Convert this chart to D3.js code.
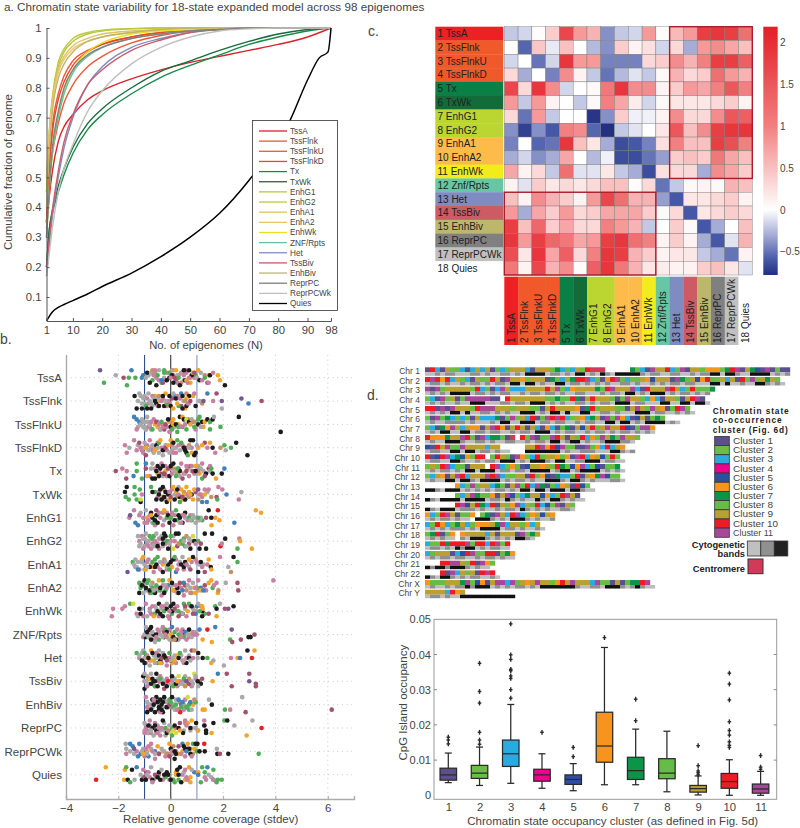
<!DOCTYPE html>
<html><head><meta charset="utf-8">
<script src="https://cdn.jsdelivr.net/npm/d3@7/dist/d3.min.js"></script>
<style>
html,body{margin:0;padding:0;background:#fff}
svg{display:block}
text{font-family:"Liberation Sans",Arial,sans-serif;fill:#444}
</style></head><body><svg id="c" width="800" height="828"></svg>
<script>
// ---------- panel a : cumulative curves ----------
const curveStates=["TssA","TssFlnk","TssFlnkU","TssFlnkD","Tx","TxWk","EnhG1","EnhG2","EnhA1","EnhA2","EnhWk","ZNF/Rpts","Het","TssBiv","EnhBiv","ReprPC","ReprPCWk","Quies"];
const curveColors=["#d8232a","#ea5a36","#ea5a36","#e8482c","#1a8a4a","#1a6a3e","#b5c83f","#bcc93f","#e4c060","#ecc56a","#ecdf20","#66c2a0","#7f8cc2","#cc5a6a","#bdb76b","#808080","#c0c0c0","#000000"];
const curveN=[1,2,3,5,7,10,15,20,30,40,50,60,70,80,90,98];
const quiesN=[1,2,3,5,7,10,15,20,30,40,50,60,70,84,90,94,97,98];
const cTssA=[.33,.44,.52,.62,.67,.71,.76,.79,.83,.86,.885,.905,.925,.945,.97,1];
const cTssFlnk=[.35,.55,.67,.78,.84,.89,.925,.945,.97,.985,.992,.997,1,1,1,1];
const cTssFlnkU=[.35,.5,.58,.68,.75,.81,.87,.905,.95,.975,.99,.997,1,1,1,1];
const cTssFlnkD=[.35,.54,.65,.76,.82,.875,.92,.945,.97,.985,.992,.997,1,1,1,1];
const cTx=[.2,.33,.38,.45,.51,.58,.66,.71,.78,.835,.875,.91,.945,.97,.99,1];
const cTxWk=[.2,.33,.39,.47,.53,.6,.68,.73,.8,.855,.89,.925,.955,.98,.995,1];
const cEnhG1=[.45,.65,.76,.87,.92,.955,.98,.99,.997,1,1,1,1,1,1,1];
const cEnhG2=[.45,.66,.77,.885,.93,.965,.985,.993,.998,1,1,1,1,1,1,1];
const cEnhA1=[.5,.66,.76,.86,.905,.94,.965,.98,.99,.995,1,1,1,1,1,1];
const cEnhA2=[.5,.65,.75,.85,.895,.93,.955,.97,.985,.993,.998,1,1,1,1,1];
const cEnhWk=[.3,.47,.58,.71,.79,.86,.92,.95,.98,.99,.995,1,1,1,1,1];
const cZnf=[.3,.47,.58,.7,.78,.85,.905,.935,.965,.98,.99,.995,1,1,1,1];
const cHet=[.17,.28,.37,.5,.6,.7,.81,.87,.935,.965,.985,.995,1,1,1,1];
const cTssBiv=[.2,.3,.39,.52,.62,.71,.81,.86,.925,.96,.985,.995,1,1,1,1];
const cEnhBiv=[.4,.6,.72,.83,.88,.92,.955,.97,.985,.995,1,1,1,1,1,1];
const cReprPC=[.3,.47,.6,.72,.8,.86,.91,.935,.965,.98,.99,.995,1,1,1,1];
const cReprPCWk=[.17,.25,.33,.45,.53,.61,.72,.79,.88,.935,.97,.99,.997,1,1,1];
const cQuies=[.02,.036,.05,.065,.075,.088,.11,.135,.18,.235,.3,.38,.49,.69,.826,.9,.92,1];
const curveValues=[cTssA,cTssFlnk,cTssFlnkU,cTssFlnkD,cTx,cTxWk,cEnhG1,cEnhG2,cEnhA1,cEnhA2,cEnhWk,cZnf,cHet,cTssBiv,cEnhBiv,cReprPC,cReprPCWk];

// ---------- panel b : jittered dots. token = value + anatomy letter + jitter lane ----------
const dotStates=["TssA","TssFlnk","TssFlnkU","TssFlnkD","Tx","TxWk","EnhG1","EnhG2","EnhA1","EnhA2","EnhWk","ZNF/Rpts","Het","TssBiv","EnhBiv","ReprPC","ReprPCWk","Quies"];
const dotPalette={k:"#1c1c1c",p:"#c97fa2",g:"#a9a9a9",n:"#4fae55",o:"#f4a428",b:"#3f80bd",v:"#74598f",r:"#a65070",e:"#ea1c26",y:"#d5dc3c",c:"#c79063"};
const dTssA="-2.7v0 -2.55n5 -2.1g2 -1.8r3 -1.67n6 -1.6n3 -1.35n3 -1.5b0 -1.1b3 -1.05b2 -0.9k1 -0.8k5 -0.75g1 -0.7c0 -0.6p0 -0.55k6 -0.5n2 -0.45p4 -0.3r5 -0.25n0 -0.25n1 -0.2p4 -0.15k4 -0.05k3 0.05k2 0p3 0.1k5 0.1g0 0.2o0 0.25g2 0.3n3 0.35k6 0.4p1 0.45g1 0.5k0 0.5p2 0.55k4 0.6o4 0.7k0 0.75o5 0.8k2 0.85o1 1g3 1.1k4 1.2p4 1.3n3 1.45o2 1.5k2 1.45p5 1.62p1 1.8o2 1.88o4 2.07k6 0.9r1 0.65p5 -0.35b4 -0.95g3 -0.65p2 0.15r3 0.7p3";
const dTssFlnk="-1.38k1 -1.3k6 -1.25g3 -1.15g1 -1.1k6 -1.05g2 -1g4 -0.95n5 -0.9k6 -0.85g0 -0.8g3 -0.75k6 -0.7p1 -0.65g2 -0.6k3 -0.55k4 -0.5p5 -0.45k5 -0.4o3 -0.3k1 -0.25k5 -0.15n4 -0.1p3 -0.05k1 0k5 0.1g0 0.1o6 0.2k2 0.3n5 0.35p2 0.4b0 0.45k1 0.5g3 0.55o6 0.6k5 0.65p4 0.7k1 0.75r3 0.6o2 0.9p0 0.95k5 0.45k6 1.1g3 1.25v3 1.4b0 1.62p3 1.75r0 1.95v3 1.95g6 2.7v2 2.97b4 3.47r3 -0.2g3 -0.35p3 0.25o4 0.55c3";
const dTssFlnkU="-1.4b0 -1.3p5 -1.3b1 -1.2b2 -1.15g3 -1.1g1 -1.05g4 -1g2 -0.95g5 -0.9g0 -0.85p4 -0.8g3 -0.7n5 -0.6o3 -0.55r2 -0.5o4 -0.45p3 -0.4g5 -0.3p4 -0.2r3 -0.1k1 -0.05p6 0k4 0.05n5 0.1o1 0.1o3 0.2k3 0.25n6 0.3n4 0.35k0 0.45o0 0.5k1 0.55p3 0.6y1 0.7k2 0.75o3 0.8g1 0.9c2 1.05k3 1.1n0 1.2k2 1.3o2 1.4k1 1.5n5 1.5n2 1.6k1 1.65g0 1.9n4 2.6k0 4.2k6 -0.35n2 -0.75p2 0.4p4 0.9n4 1.15g4";
const dTssFlnkD="-1.75p2 -1.68p5 -1.58g3 -1.4p0 -1.3p4 -1.2r1 -1.1g3 -1.05p5 -1g1 -0.95r6 -0.85g4 -0.8p0 -0.7g2 -0.65g5 -0.55k2 -0.5g3 -0.45n1 -0.4o0 -0.3k4 -0.3g6 -0.2r3 -0.1o2 0o0 0.05g4 0.1k1 0.1p5 0.2g3 0.25n0 0.3p2 0.4n1 0.5k3 0.55k4 0.6k5 0.65n6 0.75k0 0.8o5 0.85k0 0.9k6 1g2 1.2o2 1.5o1 1.6k3 1.7p5 1.9c3 2.05n2 2.1g4 2.3n3 2.5k1 2.93k6 0.95k5 1.4p3 -1.15p3 -0.6o4 0.7g3";
const dTx="-2.1r3 -1.85p2 -1.68p3 -1.7r6 -1.42b5 -1.3n0 -1.3n3 -1.1n6 -0.95b0 -0.9o5 -0.75g2 -0.6k6 -0.55k3 -0.5k1 -0.45k5 -0.4k2 -0.35p0 -0.3k1 -0.25k4 -0.2o3 -0.1r2 -0.05k5 0k1 0.1k0 0.15g3 0.2n5 0.3r2 0.35k3 0.4p0 0.45r6 0.55g4 0.6r3 0.7p5 0.85r3 0.95o1 1.1o4 1.15g2 1.2n6 1.35k4 1.5p1 1.5g3 1.55n2 1.6k4 1.73o6 1.95k4 2.05b2 -0.7k6 -0.25r4 0.05p4 0.25n2 0.8p1 1.05p3 0.95k3 1.3r5";
const dTxWk="-1.75k2 -1.68k0 -1.72n4 -1.6n5 -1.38n0 -1.38n3 -1.18n1 -1.3n5 -1.15k6 -1.15y5 -0.75n0 -0.7k2 -0.5p4 -0.45k3 -0.4k1 -0.35k5 -0.3k0 -0.25k4 -0.2k2 -0.15k6 -0.1k3 -0.05o5 0r4 0.1o0 0.15k5 0.2o2 0.3p3 0.35n6 0.4o1 0.5o3 0.55k5 0.6o0 0.7c4 0.85o5 1.05v1 1.2b6 1.2p4 1.3p1 1.38b6 1.45p1 1.75r4 1.78n5 1.82p0 1.97p1 2.13b3 2.6p5 2.7g2 -0.55k5 0.25k1 -0.05p2 0.45r4 0.75o3 1.1p3 1.3o3";
const dEnhG1="-1.58p3 -1.55v2 -1.4p0 -1.35b5 -1.25b6 -1.2p2 -1.05p3 -0.95g0 -0.85p4 -0.75k1 -0.7k3 -0.65n5 -0.6k4 -0.55k2 -0.5k5 -0.45p1 -0.3p6 -0.25o0 -0.15n3 -0.1k2 -0.05k5 0n3 0.05p1 0.1p6 0.15k4 0.2n0 0.3k2 0.35k3 0.45k5 0.55k1 0.6g3 0.7n3 0.75g4 0.85g2 0.95g5 1.1g4 1.15g3 1.45k0 1.35r3 1.8e0 1.7o3 1.86o4 1.56o6 3.25o0 3.45o1 2.43b5 -0.75o2 -0.9p5 0.4p5 0.5p2 1.55k3 -0.55r0 1.05n3";
const dEnhG2="-1.25g1 -1.2p3 -1.15g4 -1.05g2 -1g5 -0.95g0 -0.9p4 -0.85g3 -0.8n1 -0.75p6 -0.7n2 -0.65g5 -0.6p3 -0.55g0 -0.5p4 -0.45p6 -0.35g1 -0.3k2 -0.25k0 -0.2k1 -0.15n3 -0.1k6 -0.05g4 0n1 0.1y6 0.15p3 0.2k0 0.3k0 0.4n3 0.45n4 0.5g3 0.55n5 0.7g2 0.75k6 0.85y1 0.9k3 1.1k6 1.15r4 1.3k0 1.35k6 1.58k0 1.9e5 1.95p4 2.08k2 2.55n6 2.62p2 2.65o3 3.1o6 -0.5k5 -0.3k4 0.95p4 -1.05p6 0.3c4 0.6g5";
const dEnhA1="-1.65v6 -1.45n2 -1.4g3 -1.35g1 -1.3g4 -1.25b5 -1.1g2 -1.05o0 -1g3 -0.95o5 -0.85p1 -0.8k4 -0.7n2 -0.65p6 -0.55k3 -0.5n0 -0.4p5 -0.3k6 -0.25p2 -0.15g4 -0.1k3 -0.05n5 0k2 0.1k1 0.15n0 0.2b6 0.3p3 0.4k3 0.45g0 0.5k4 0.55k2 0.7o1 0.75r5 0.85k0 1p2 1.05k6 1.1g3 1.15k2 1.3r6 1.45o1 1.53k4 1.55o5 1.88p0 2.2g4 2.3c6 2.4k0 2.55n2 -0.9g4 -0.2g2 0.25p5 0.6p3 1.2p4 -0.6k4";
const dEnhA2="-1.2n1 -1.2k5 -1.15n3 -1.1k2 -1k0 -0.95k3 -0.9n1 -0.85n0 -0.8k4 -0.75g2 -0.7n3 -0.6k5 -0.55n2 -0.45o0 -0.4k3 -0.35p6 -0.3n0 -0.25k5 -0.2g2 -0.15p3 -0.05o0 0.05k1 0.1o4 0.2p2 0.25g5 0.35r1 0.45b4 0.5p6 0.55r2 0.7p0 0.75g3 0.8c5 0.95o5 1.05p0 1.15o4 1.25b4 1.45o1 1.55o0 1.6n3 1.65p2 1.75p1 1.8o5 1.82c4 2.1g1 2.55r1 2.58r4 3.92p0 0.3k5 -0.65g4 -1.05g5 0.65g2 1n3 0.95p3 1.3r2";
const dEnhWk="-2.25p5 -2.2p2 -1.85p2 -1.75p1 -1.55n0 -1.43y0 -1.3p4 -1.25g5 -1.2k2 -1.15k4 -0.95p0 -0.8g3 -0.7p1 -0.65o5 -0.55g2 -0.5k3 -0.45k0 -0.4k4 -0.35p1 -0.3k5 -0.25n3 -0.15k2 -0.05p6 0k1 0.05k3 0.1k0 0.15r2 0.3n3 0.45g4 0.5n0 0.55r1 0.7n0 0.8k1 0.9g3 0.95b4 1.05g0 1.2o1 1.22o2 1.2k5 1.45r4 1.7n1 1.75k2 1.75o5 1.88g0 2.07r2 2.2v2 2.4k1 0.85r4 0.6p5 -0.05p3 -0.75p4 0.3r5 1.1n3";
const dZnf="-1g3 -0.95g0 -0.9k2 -0.85g4 -0.8k1 -0.75k5 -0.7g2 -0.6g6 -0.55k3 -0.5p1 -0.45n5 -0.4g3 -0.3g4 -0.25r2 -0.2n1 -0.15k2 -0.05g5 0o3 0.05b0 0.1k4 0.2k5 0.3n3 0.4p4 0.45p1 0.5k2 0.55b2 0.6p5 0.7k1 0.75c3 0.8g4 0.95g2 1.1b1 1.22o5 1.4e1 1.7b0 1.57o6 2.33v1 2.27n5 2.35r6 2.68r5 2.97k4 3.05k4 3.2r3 -0.75k0 -0.2p3 0.4p2 0.15c5 0.65g3 1p3 -0.55p4 0.9p3";
const dHet="-1.3n1 -1.2g2 -1.1k4 -1.05g0 -1n1 -0.95p5 -0.85k3 -0.8g6 -0.75o0 -0.7k1 -0.65o4 -0.55g3 -0.5n5 -0.45k2 -0.35r3 -0.3g1 -0.25k2 -0.2k3 -0.15p6 -0.05n1 0g4 0.1g3 0.2p5 0.3k3 0.35n1 0.45p4 0.55g0 0.6k5 0.7k3 0.8r0 0.9c0 1.05k1 1.03g3 1.22k3 1.4n3 1.55o5 1.63g4 2.03g6 2.3p3 2.55o3 2.65b3 2.93k0 3.1e3 3.2o0 -0.6g5 -0.4o5 0.15o4 0.5g4 -1k5 0.75g4 -0.15r4";
const dTssBiv="-1.05k1 -1g0 -1k6 -0.95g3 -0.85g4 -0.8o2 -0.75k4 -0.7k2 -0.65k3 -0.6n5 -0.55k0 -0.5k5 -0.45p3 -0.35g2 -0.3k4 -0.25r6 -0.15p2 -0.1e3 0g4 0.05k1 0.1n5 0.2k4 0.3y1 0.35p3 0.45g4 0.5n2 0.6v3 0.7r4 0.9y0 0.95g1 1.03k3 1.15k4 1.2r2 1.6o3 1.8b0 2.14r0 2.33r5 3r0 3v3 3.25r4 3.25r5 -0.6k3 -0.9p5 0.25o3 0.8g3 -0.4n2 0.55c5 1.05g5 -0.15k5";
const dEnhBiv="-0.95p0 -0.9k6 -0.85g3 -0.75k5 -0.7k1 -0.65k3 -0.6k6 -0.55k0 -0.5k2 -0.45k4 -0.45k5 -0.4k1 -0.35k3 -0.3k6 -0.3k2 -0.25k0 -0.2g4 -0.15k4 -0.05r3 0n2 0.05k0 0.1n4 0.15g5 0.2n3 0.3b1 0.45b2 0.5p5 0.55g4 0.65y0 0.7n3 0.75b2 0.8g5 0.9c1 1.22o5 1.3o5 1.46g1 1.57k3 2.07n5 2.27p5 2.73g0 2.86r6 6.15r5 0.36e6 -0.9p4 -0.4p6 0.25p5 0.6n4 -0.65p1 -0.35k5 0.4n4";
const dReprPC="-1g1 -0.95p3 -0.9g5 -0.85k2 -0.8p0 -0.75p5 -0.7k3 -0.65g6 -0.6k2 -0.55k4 -0.45p3 -0.4p6 -0.3k0 -0.25g4 -0.2n3 -0.15k5 -0.05g2 0y5 0.05n6 0.15k2 0.2y5 0.3k3 0.47k5 0.6p2 0.8o0 0.75g4 0.75k3 0.97k1 1.03o4 1.28k2 1.28p0 1.35k4 1.35k5 1.56o5 1.63k1 2.05n0 2.16k0 2.43g2 2.9o6 3.12g0 3.47e3 -1p5 -0.5p5 -0.1p4 0.35o4 0.55p0 -0.75g4 0.95g3";
const dReprPCWk="-1.72g0 -1.7g2 -1.7p4 -1.55b0 -1.45b1 -1.4v2 -1.25b5 -1.2b0 -1.1g3 -1.05o4 -0.95p2 -0.85b5 -0.75p0 -0.7p3 -0.6p6 -0.5o1 -0.45r4 -0.35g2 -0.2p5 -0.15c4 -0.05o0 0k2 0.05p3 0.15k3 0.2k4 0.3r1 0.15k6 0.45b0 0.5k1 0.55k2 0.65o0 0.7k2 0.75k4 0.8p5 0.85n0 0.95k0 1.02k0 1.1k3 1.28e0 1.3k3 1.76g2 1.78k4 1.88r4 2.2k4 3.36n4 -0.9g4 -0.6g4 -0.05r5 0.4p4 0.6b3";
const dQuies="-2.85e5 -2.48o0 -1.78o5 -1.75o1 -1.7n0 -1.64k5 -1.55n6 -1.48k1 -1.38g5 -1.3b0 -1.1k5 -1.05p1 -1r4 -0.95k5 -0.85p2 -0.75g0 -0.7p6 -0.6r3 -0.5k4 -0.45k2 -0.4k5 -0.35g1 -0.25k3 -0.15k2 -0.05p5 0k5 0.15n6 0.2o2 0.25k1 0.3k3 0.35k0 0.4k6 0.5g2 0.6p4 0.7o0 0.75o6 0.8g1 1.05b3 1.15n6 1.2n0 1.4b0 1.45g3 1.63b5 1.63n1 1.63p5 1.75n6 1.8n5 1.95n5 -0.9g3 -0.1k3 0.55p1 1.3p4";
const dotRows=[dTssA,dTssFlnk,dTssFlnkU,dTssFlnkD,dTx,dTxWk,dEnhG1,dEnhG2,dEnhA1,dEnhA2,dEnhWk,dZnf,dHet,dTssBiv,dEnhBiv,dReprPC,dReprPCWk,dQuies];
// remaining epigenomes of each row, mostly in the crowded middle
const eTssA="-0.85g2 -0.7n4 -0.6c1 -0.45g0 -0.35n5 -0.15p1 -0.05n1 0.1p2 0.2r4 0.3c2 0.4c5 0.5g4 0.6p1 0.75g3 0.9p3 1.05o0 1.15g1 1.3p2 1.4r5 -0.55p3 -0.25g3 0.05c0 0.25p5 0.55r0 0.95n2";
const eTssFlnk="-1.2g0 -1.1g4 -1g1 -0.95g5 -0.9p2 -0.85p4 -0.7g5 -0.6o1 -0.5g2 -0.45c1 -0.3p2 -0.2o0 -0.15c5 -0.05p4 0.05r2 0.15b1 0.25p1 0.4r5 0.5p3 0.6c0 0.7g4 0.85o1 1.1p3 1.2c4 -0.75g4";
const eTssFlnkU="-1.25g4 -1.15p3 -1.05p2 -1g4 -0.95p5 -0.9g2 -0.8p4 -0.75g5 -0.65p1 -0.5g2 -0.4p5 -0.3o3 -0.25r5 -0.15p4 -0.05o2 0.05p2 0.15g4 0.3o3 0.45n4 0.6n5 0.65r1 0.8n2 0.95p5 1.05n1 1.25o4";
const eTssFlnkD="-1.25g2 -1.1p4 -1g3 -0.9p2 -0.75g3 -0.7p4 -0.6g3 -0.5p1 -0.45g5 -0.35p3 -0.25g4 -0.15p4 -0.05g5 0.05p2 0.15o3 0.2p5 0.35g4 0.45p2 0.55r3 0.7c2 0.8p3 1.05o3 1.3r1 -0.95o3 -0.2g2";
const eTx="-0.95r2 -0.8p5 -0.7g0 -0.6p2 -0.4r4 -0.3g5 -0.15p5 0g2 0.1c2 0.25c4 0.35g5 0.5p4 0.65c2 0.75r1 0.8g3 0.9p4 1g4 1.05g1 1.1c2 1.2p0 1.25g3 1.45r2 -0.5o4 -0.2p1 0.6p1";
const eTxWk="-1.1p3 -0.6n2 -0.45p2 -0.3o4 -0.2p5 -0.05k2 0.05p1 0.15g3 0.25c4 0.35k4 0.45o5 0.5c2 0.6p3 0.7o2 0.8k3 0.95r2 1.05c5 1.15p3 1.4g2 1.55c4 -0.25p1 0.3g0 0.55p5 0.9o1 -0.35n5";
const eEnhG1="-1.15g1 -1p5 -0.9o3 -0.8p2 -0.7g5 -0.6p6 -0.5g2 -0.4p3 -0.25g4 -0.15p1 -0.05g3 0.05g2 0.15p2 0.25n4 0.35g5 0.45c2 0.55g3 0.65p4 0.8n4 0.9g3 1g3 1.05g4 1.2n4 -0.3c1 0.75p2";
const eEnhG2="-1.2g5 -1.1p1 -1p2 -0.9g3 -0.85p5 -0.75g2 -0.7p4 -0.6g4 -0.55p5 -0.45g2 -0.4p2 -0.3g5 -0.2p4 -0.1g3 0p3 0.1g1 0.25r5 0.35g4 0.5n2 0.6c1 0.7r4 0.8g3 1.05n3 -0.65n1 -0.25g1";
const eEnhA1="-1.35p4 -1.25g2 -1.2p5 -1.1o1 -1g5 -0.9p2 -0.75g3 -0.6n1 -0.5p4 -0.4g2 -0.25c1 -0.15p5 -0.05g3 0.05o4 0.2p1 0.35g2 0.5p5 0.6c3 0.7g4 0.8p2 0.95c1 1.25g3 1.4p3 -0.7o4 -0.3o3";
const eEnhA2="-1.15g2 -1.05p1 -0.9g4 -0.8p5 -0.7c1 -0.55p3 -0.5g4 -0.3p2 -0.2n4 -0.1b2 0.05g2 0.15r4 0.3o2 0.4p3 0.5b1 0.6c4 0.75p5 0.85g1 0.9o3 1.05g4 1.15b3 1.35p4 -0.4n4 0.25k3 -0.75n5";
const eEnhWk="-1.1g2 -1.05p5 -0.9g5 -0.8p2 -0.6n4 -0.45p5 -0.35g2 -0.25p1 -0.1p5 0.05n4 0.2g3 0.25p1 0.4p4 0.55g2 0.65o3 0.75p1 0.85g2 1b1 1.15p1 1.3n4 0.95c3 -0.6g1 -0.15g0 0.45k4 1.2k3";
const eZnf="-1.05p4 -0.95k4 -0.85p1 -0.75g3 -0.65p5 -0.55g5 -0.45p2 -0.35g1 -0.25k4 -0.15c4 -0.05p1 0.05g3 0.15n2 0.25p1 0.3g5 0.5c3 0.6g2 0.7p4 0.85p2 -0.65k3 -0.3p0 0.35c4 0.5n4 -0.9p3 0.05c5";
const eHet="-1.2p3 -1.1g1 -1g3 -0.9o3 -0.8p4 -0.65g2 -0.55p1 -0.45g0 -0.35p5 -0.25g2 -0.15g3 -0.05p3 0.05o5 0.15g2 0.3p3 0.4g2 0.5p5 0.6p3 0.7g2 -0.9p2 -0.75o4 -0.4k4 0k4 0.25o2 0.85p3";
const eTssBiv="-1p3 -0.9g1 -0.85p2 -0.7g4 -0.6p5 -0.5g2 -0.4p1 -0.25g3 -0.2p4 -0.05g3 0.05p3 0.15g2 0.25p5 0.35g4 0.5p3 0.55g1 0.7c2 0.8p5 0.85g4 0.95p2 -0.75g0 -0.45k3 0.1c4 0.65o4 1.1c3";
const eEnhBiv="-0.9g2 -0.85p5 -0.75p3 -0.7g4 -0.6g2 -0.55p2 -0.5g1 -0.4g5 -0.25p1 -0.15g2 -0.1n4 0p4 0.1g3 0.2g1 0.3n5 0.35p2 0.4b3 0.5g3 0.6b4 0.7n5 0.85o3 0.95n2 0.55p1 0.2o5 -0.05n1";
const eReprPC="-1g4 -0.95g2 -0.9p4 -0.85g5 -0.8p2 -0.75g3 -0.65p3 -0.6p1 -0.5g2 -0.4g4 -0.35p3 -0.25g1 -0.2g6 -0.1o4 0.05n3 0.1y4 0.2p3 0.35r1 0.5g4 0.55c1 0.65o1 0.8g3 1.05g4 1.3p2 -0.55g5";
const eReprPCWk="-1.55g3 -1.4g4 -1.3p3 -1.15b4 -1.05g2 -0.9o3 -0.75g2 -0.6b3 -0.45p4 -0.3o3 -0.1p4 0.05g4 0.2p3 0.3o4 0.45o3 0.55p5 0.65r2 0.75p2 0.9o2 1n3 -1p5 -0.85p1 -0.25g3 0.1c1 0.85c4";
const eQuies="-1.15g3 -1.05g4 -0.95p3 -0.9r2 -0.8p4 -0.65g5 -0.55p4 -0.45p3 -0.3p5 -0.2n4 -0.05g3 0.05p5 0.1n5 0.2o3 0.3n5 0.45p3 0.55o5 0.65p5 0.75o4 0.9b2 1.05o2 1.3n2 1.35p5 1.55g4 -0.7k5";
const extraRows=[eTssA,eTssFlnk,eTssFlnkU,eTssFlnkD,eTx,eTxWk,eEnhG1,eEnhG2,eEnhA1,eEnhA2,eEnhWk,eZnf,eHet,eTssBiv,eEnhBiv,eReprPC,eReprPCWk,eQuies];

// ---------- panel c : state correlation heat map ----------
const heatLabels=["1 TssA","2 TssFlnk","3 TssFlnkU","4 TssFlnkD","5 Tx","6 TxWk","7 EnhG1","8 EnhG2","9 EnhA1","10 EnhA2","11 EnhWk","12 Znf/Rpts","13 Het","14 TssBiv","15 EnhBiv","16 ReprPC","17 ReprPCWk","18 Quies"];
const heatLabelColors=["#ed2024","#f1592a","#f1592a","#f1592a","#0a8046","#136b3a","#bcd631","#bcd631","#fdbb4a","#fdbb4a","#f2ec1c","#67c7a5","#7f8cc2","#cd5b64","#bdb76b","#808080","#c0c0c0","#ffffff"];
const heatRows=[
[-.2,-.15,.02,.4,1.7,.8,.6,-.4,-.2,-.15,.8,.03,.55,.8,1.8,1.9,1.8,1.2],
[.02,-.55,.45,-.08,.5,0,-.25,-.4,.4,.1,.25,-.15,.3,-.3,.8,.9,.7,.5],
[-.15,0,-.5,-.15,1.9,.8,.8,-.45,-.45,-.45,.3,.4,.9,.6,1,1.8,1.8,1.4],
[.3,-.3,0,-.45,.9,.1,-.2,-.5,-.25,-.1,-.2,.05,.6,.3,.4,1.2,.8,.6],
[1.7,.3,1.9,.9,-.15,0,.05,1.1,1.9,.9,.9,.1,.4,.8,.7,1,1.5,1],
[.8,-.2,.8,.1,0,-.2,.05,1,.7,.15,-.15,.05,.2,.2,.2,.3,.4,.1],
[.3,-.5,.8,-.2,0,0,-.75,-.4,.4,-.05,-.05,.1,.9,.3,.3,.9,1.5,1.4],
[-.4,-.7,-.4,-.6,1,.9,-.55,-.78,-.2,-.1,0,.2,1.5,.5,.9,1.8,1.9,1.9],
[-.45,0,-.55,-.5,1.9,.5,.2,-.3,-.65,-.6,-.45,.25,1,.5,.5,1.8,1.6,1],
[-.3,-.15,-.4,-.3,.7,0,-.25,-.05,-.65,-.65,-.5,-.35,.4,.5,.4,1.1,.7,.5],
[.7,.1,.3,-.2,1.2,-.1,-.1,.2,-.2,-.3,-.65,.25,.3,.3,-.3,.9,.7,.4],
[.1,-.1,.4,.2,.3,.2,.3,.5,.5,.02,.3,-.5,-.2,.05,.1,.05,.6,.5],
[.5,.1,.9,.6,.4,.1,.8,1.7,1.2,.6,.6,-.35,-.6,.2,.2,.3,.4,.1],
[.8,-.3,.7,.4,.8,.3,.4,.7,.7,.7,.4,.05,.3,-.6,.2,.3,.4,.3],
[1.8,.5,1.3,.4,.7,.3,.3,1,.8,.6,-.2,0,.4,.05,-.6,-.3,0,.5],
[1.9,.8,1.8,1.3,1.1,.7,.8,1.8,1.9,1.2,1,.1,.4,.1,-.3,-.6,-.1,.6],
[1.6,.2,1.9,.7,1.4,.3,1,1.9,1.8,.6,.4,.1,.2,.2,-.2,-.3,-.5,.1],
[1.1,.1,1.7,.6,.9,.02,1.4,1.9,1.1,.6,.2,.15,.1,.1,.4,.5,.2,-.1]];
const heatTicks=[2,1.5,1,.5,0,-.5];
const heatTickLabels=["2","1.5","1","0.5","0","\u22120.5"];
const heatDomain=[-.78,-.6,-.3,0,1,2.19];
const heatColors=["#232f80","#4558a8","#a5acd6","#ffffff","#f28080","#e31f26"];

// ---------- panel d : chromosome tracks (one letter per bin) ----------
const chrNames=["Chr 1","Chr 2","Chr 3","Chr 4","Chr 5","Chr 6","Chr 7","Chr 8","Chr 9","Chr 10","Chr 11","Chr 12","Chr 13","Chr 14","Chr 15","Chr 16","Chr 17","Chr 18","Chr 19","Chr 20","Chr 21","Chr 22","Chr X","Chr Y"];
const clusterTrack=[
"ajcaibhcaciciahcbiiicaiiihgchcibjzzz.....ghcakiijchkaiihfffbgjkaigeakabaa",
"jkjfjcibcaihbjiakiifbiiiaghcigjjkcbafjkhcbhifeiiiakghiefjhbiciajhkbigib",
"kakhiiiiibjchackiccciiiijikbcfiiiighjkiiikcajiiikjichjbhhg",
"hcakbiahkkkkkaa.jiiiiiiihhghhjgaijiiihahkiibcfcaiihaijka",
"jjakakiiihjkkkiiibiiihhaijiiiifagjhiiihhaikihkifahjkb",
"bakhgcbcbaicccgahkbicjahkjkjcbifcgiakhkfcaeiahgh",
"hcagfkiciffaikjfaijiaicafcahgaieijhikiijeahkkf",
"jfffgiikjhakcgghaz.jhkahbkjiaihjcfbkighkiib",
"eajikbhkiiiicii.....iijkfjekbhaakhfcjcif",
"jaejkcgefbjj.bjihakfbcjhiifbfakjcfiehjb",
"hibjkcbhaiii.jkcbfhaeiifibjghefkcbeahhg",
"bcifaikjciiikjkcbhiiajhfeagccbjaifgkehh",
"......fcbkhiicgbaikhjckgahcfiajeh",
"......bcikgbhfaikebcgiiefcbjkia",
"......jkeijgcjaibfkcihjcebkaib",
"fcbjkiahhf.bgakicjkcbfieif",
"cbjfcbgicbfffigkciibfci",
"hgjahf.fiiiiciaiiiakbgi",
"cbbjgjjjkhjjcjkbj",
"chiiiacejkhbjjahgf",
"...jjkkibjakfb",
"...jakcibiajkj",
"fhhhiiigkbefaikkckhifikiibfjikiiickbhaiahggjk",
"iiiicjfi"];
const bandTrack=[
"llmlmmlllmmlmllmmlmlkkkklmmlmlkklmlkmlkkkkkmlmmllmmllmlmmkklkkmllkkkklmlm",
"lmmlmllmlmmlmlmmlkklkklmllkklmmlmlmlmllmmlmllmlmlmmlmmlllkklkllmllkkmlml",
"lmlmlkkkklmmlmlmmllmlmmlmmlmllmmlllmlmmlkklmlkkklmlmmlmlm",
"lmlmllmllkkklllmmlmmlkkklmlmllmmlmlmmlkkklmmlllkkllkklkkl",
"lmlmlkklkllmmlmlmllkkklmlkklkllkkllmmlmlllkkklmmllmlml",
"lmllmmmmlmlllmlkkllkkklmmlmmllmlmmllkklkklmlkkkklml",
"lmlkkllkklmmlmmllmlmmlkkklmlmmllmlmmlmlmmlmlml",
"lmllkkkmllmmlmllmmllmlmmlkklmkklmllmkkkmml",
"lmmllkklkklmmlmll...kkkkkkklmllmmmlllkkmlm",
"lmmllkkmllmlmmlkkklmlkkkmlkkllmmkkklmmll",
"lmlmmlmlkklkkklmmlmmlkkkklmkklmkkkklmlml",
"lmllkklkkmlkkkklmlmmlmllkkkmlkkmlmlllmml",
"kkmlkkklmlmlmlmmlmlkklkklkkklkkmll",
"kmlkkkklkkkklmmlkmlmllkmlkkmlmll",
"kmlkkklmmmlmllmlmmlkmlmlmllmml",
"lmlmmlmll.kkkmlmlkkkmlmllm",
"lmlmlmmmlmlkkkklmmlmllml",
"lmlmll.mlkkkmlmlmlkkml",
"lmmlmlkmkklmlmmll",
"lmlmmlmmllmlmmlmll",
"kmkkmkkkmlmll",
"kmlkkmlmlmmllml",
"lmllmlmmkmkkklmlmlmmlmlkkkkkkkmllmmlkkkmlmkmll",
"lmmlmllkkkkkkkkkkk"];
const clusterNames=["Cluster 1","Cluster 2","Cluster 3","Cluster 4","Cluster 5","Cluster 6","Cluster 7","Cluster 8","Cluster 9","Cluster 10","Cluster 11"];
const clusterColors=["#5b4f8e","#6bbd45","#29abe2","#ec008c","#2e4f9e","#f7941e","#0a9548","#65bc46","#b9a032","#ed1c24","#a8479a"];
const bandColors={l:"#bdbdbd",m:"#8f8f8f",k:"#111111"};
const centromereColor="#d23a5a";

// ---------- panel d lower : box plot ----------
const boxIds=[1,2,3,4,5,6,7,8,9,10,11];
const boxLow=[.0036,.0028,.0034,.002,.0013,.003,.003,.001,.0001,0,0];
const boxQ1=[.0043,.0048,.0082,.004,.0031,.0094,.0045,.0047,.0009,.002,.0006];
const boxMed=[.0058,.0063,.0118,.0058,.0045,.014,.007,.0063,.0019,.0039,.0018];
const boxQ3=[.0077,.0085,.0157,.0074,.0058,.0236,.0108,.0104,.0028,.0062,.0032];
const boxHigh=[.012,.0137,.0258,.0118,.009,.042,.0188,.0182,.0055,.0101,.0068];
const boxOutliers=[
[.0146,.0157,.0165],
[.0145,.0157,.0179,.0262,.0295,.0375],
[.0276,.03,.0332,.0339,.0354,.0358,.0386,.0399,.0487],
[.0179],
[.011,.0136],
[.0448],
[.0212,.0273],
[],
[.0058,.0064,.0069,.0084,.0141],
[.0136,.0142,.0152,.0171,.0184,.0209,.0271,.0316,.0347],
[.0074,.008,.0113]];

// =====================================================================
const svg=d3.select("#c");
const T=(x,y,s,size,opt={})=>{const t=svg.append("text").attr("x",x).attr("y",y).text(s).attr("font-size",size);
  if(opt.anchor)t.attr("text-anchor",opt.anchor); if(opt.weight)t.attr("font-weight",opt.weight);
  if(opt.fill)t.style("fill",opt.fill); if(opt.rot)t.attr("transform",`rotate(${opt.rot} ${x} ${y})`); return t;};
const styleAxis=(g,color,size)=>{g.selectAll("path,line").attr("stroke",color);g.selectAll("text").attr("font-size",size).style("fill","#444");};

T(4,11,"a. Chromatin state variability for 18-state expanded model across 98 epigenomes",11.7);
T(368,36,"c.",14); T(0,344,"b.",14); T(367,400,"d.",14);

// panel a
{
 const x=d3.scaleLinear([1,98],[46.5,331]), y=d3.scaleLinear([.1,1],[297,28]);
 const line=d3.line().curve(d3.curveMonotoneX);
 const g=svg.append("g");
 curveValues.forEach((v,i)=>g.append("path").attr("fill","none").attr("stroke",curveColors[i]).attr("stroke-width",1.4)
   .attr("d",line(v.map((d,j)=>[x(curveN[j]),y(d)]))));
 g.append("path").attr("fill","none").attr("stroke","#000").attr("stroke-width",1.5)
   .attr("d",d3.line().curve(d3.curveMonotoneX)(cQuies.map((d,j)=>[x(quiesN[j]),y(d)])));
 const ax=svg.append("g").attr("transform","translate(0,321)").call(d3.axisBottom(x).tickValues([1,10,20,30,40,50,60,70,80,90,98]).tickFormat(d3.format("d")).tickSize(-3).tickPadding(5));
 styleAxis(ax,"#555",11.3);
 const ay=svg.append("g").attr("transform","translate(46.5,0)").call(d3.axisLeft(y).tickValues(d3.range(1,11).map(d=>d/10)).tickFormat(d=>d===1?"1":d3.format(".1f")(d)).tickSize(-3).tickPadding(5));
 styleAxis(ay,"#555",11.3);
 ay.select(".domain").attr("d","M0.5,28V321");
 T(8,172,"Cumulative fraction of genome",11.5,{anchor:"middle",rot:-90}).attr("dy",".35em");
 T(206,349,"No. of epigenomes (N)",11.3,{anchor:"middle"});
 // legend
 svg.append("rect").attr("x",252.5).attr("y",120.5).attr("width",85).attr("height",190).attr("fill","#fff").attr("stroke","#333").attr("stroke-width",.8);
 const ly=d3.scaleLinear([0,17],[131,303.5]);
 curveStates.forEach((s,i)=>{
  svg.append("line").attr("x1",259).attr("x2",287).attr("y1",ly(i)).attr("y2",ly(i)).attr("stroke",curveColors[i]).attr("stroke-width",1.3);
  T(290,ly(i)+2.9,s,8.2);
 });
}

// panel b
{
 const x=d3.scaleLinear([-4,7],[66,354]);
 const y=d3.scalePoint(dotStates,[377.7,774.7]);
 const lane=d3.scaleLinear([0,6],[-7.5,7.5]);
 const grid=svg.append("g").attr("stroke","#bbb").attr("stroke-width",.8).attr("stroke-dasharray","1 3.6");
 dotStates.forEach(s=>grid.append("line").attr("x1",66).attr("x2",352).attr("y1",y(s)).attr("y2",y(s)));
 [-2,2,4,6].forEach(v=>grid.append("line").attr("x1",x(v)).attr("x2",x(v)).attr("y1",355).attr("y2",799));
 [[-1,"#2f4f8f"],[0,"#333333"],[1,"#7f95cc"]].forEach(([v,c])=>svg.append("line").attr("x1",x(v)).attr("x2",x(v)).attr("y1",355).attr("y2",799).attr("stroke",c).attr("stroke-width",1.1));
 const parsed=[];
 const read=(row,r)=>row.split(" ").forEach(tok=>{
   const m=tok.match(/^(-?[\d.]+)([a-z])(\d)$/); parsed.push({s:dotStates[r],v:+m[1],c:m[2],l:+m[3]});
 });
 extraRows.forEach(read); dotRows.forEach(read);
 svg.append("g").selectAll("circle").data(parsed).join("circle")
   .attr("cx",d=>x(d.v)).attr("cy",d=>y(d.s)+lane(d.l)).attr("r",2.3).attr("fill",d=>dotPalette[d.c]);
 const ax=svg.append("g").attr("transform","translate(0,799)").call(d3.axisBottom(x).tickValues([-4,-2,0,2,4,6]).tickSize(-3).tickPadding(5));
 styleAxis(ax,"#aaa",11.5); ax.select(".domain").attr("stroke-width",1.4);
 const ay=svg.append("g").attr("transform","translate(66,0)").call(d3.axisLeft(y).tickSize(0).tickPadding(4));
 styleAxis(ay,"#aaa",11.5); ay.select(".domain").attr("d","M0.5,355V799").attr("stroke-width",1.4);
 T(210.7,823,"Relative genome coverage (stdev)",11.5,{anchor:"middle"});
}

// panel c
{
 const x=d3.scaleBand(d3.range(18),[504.3,752.3]), y=d3.scaleBand(d3.range(18),[26.7,275]);
 const color=d3.scaleLinear(heatDomain,heatColors);
 const cells=heatRows.flatMap((r,i)=>r.map((v,j)=>({i,j,v})));
 svg.append("g").selectAll("rect").data(cells).join("rect").attr("x",d=>x(d.j)).attr("y",d=>y(d.i))
  .attr("width",x.bandwidth()).attr("height",y.bandwidth()).attr("fill",d=>color(d.v)).attr("stroke","#777").attr("stroke-width",.4);
 heatLabels.forEach((s,i)=>{
  svg.append("rect").attr("x",435.3).attr("y",y(i)).attr("width",68).attr("height",y.bandwidth()+.3).attr("fill",heatLabelColors[i]);
  T(437.5,y(i)+y.bandwidth()/2+3.5,s,10,{fill:"#222"});
  svg.append("rect").attr("x",x(i)).attr("y",276.7).attr("width",x.bandwidth()+.3).attr("height",68.3).attr("fill",heatLabelColors[i]);
  T(x(i)+x.bandwidth()/2+3.5,343,s,10,{fill:"#222",rot:-90});
 });
 svg.append("rect").attr("x",x(12)).attr("y",y(0)).attr("width",x(17)+x.bandwidth()-x(12)).attr("height",y(11)-y(0)).attr("fill","none").attr("stroke","#a81e2a").attr("stroke-width",1.4);
 svg.append("rect").attr("x",x(0)).attr("y",y(12)).attr("width",x(11)-x(0)).attr("height",y(17)+y.bandwidth()-y(12)).attr("fill","none").attr("stroke","#a81e2a").attr("stroke-width",1.4);
 const cb=d3.scaleLinear([2,-.5],[42.7,251.7]);
 const grad=svg.append("defs").append("linearGradient").attr("id","cbg").attr("x1",0).attr("x2",0).attr("y1",1).attr("y2",0);
 heatDomain.forEach((v,i)=>grad.append("stop").attr("offset",(v-heatDomain[0])/(heatDomain[5]-heatDomain[0])).attr("stop-color",heatColors[i]));
 svg.append("rect").attr("x",763.3).attr("y",26.7).attr("width",14.4).attr("height",248.3).attr("fill","url(#cbg)");
 heatTicks.forEach((t,i)=>T(780,cb(t)+3.6,heatTickLabels[i],10));
}

// panel d tracks
{
 const bin=d3.scaleLinear([0,1],[0,5]);
 const x0=425, y0=367.3, y=d3.scaleLinear([0,23],[y0,y0+23*9.67]);
 chrNames.forEach((n,i)=>{
  T(420,y(i)+6.7,n,8.5,{anchor:"end"});
  const top=svg.append("g"),bot=svg.append("g");
  [...bandTrack[i]].forEach((c,j)=>{ if(!bandColors[c])return;
    bot.append("rect").attr("x",x0+bin(j)).attr("y",y(i)+5).attr("width",bin(1)+.2).attr("height",3.5).attr("fill",bandColors[c]);});
  [...clusterTrack[i]].forEach((c,j)=>{
    const col=c==="z"?centromereColor:clusterColors["abcdefghijk".indexOf(c)];
    if(!col)return;
    top.append("rect").attr("x",x0+bin(j)).attr("y",y(i)).attr("width",bin(1)+.2).attr("height",5).attr("fill",col);});
 });
 const bold={weight:"bold",fill:"#222"};
 T(712.7,414,"Chromatin state",8.3,bold).attr("textLength",76);
 T(712.7,423.3,"co-occurrence",8.3,bold).attr("textLength",69);
 T(712.7,432.6,"cluster (Fig. 6d)",8.3,bold).attr("textLength",75);
 const ly=d3.scaleLinear([0,10],[441,532.7]);
 clusterNames.forEach((s,i)=>{
  svg.append("rect").attr("x",714.7).attr("y",ly(i)-4.6).attr("width",14.6).attr("height",9.2).attr("fill",clusterColors[i]).attr("stroke","#333").attr("stroke-width",.8);
  T(733,ly(i)+3.1,s,8.2).attr("textLength",i===9?45:40).attr("lengthAdjust","spacingAndGlyphs");
 });
 T(745,548,"Cytogenetic",9.3,{...bold,anchor:"end"}); T(745,557,"bands",9.3,{...bold,anchor:"end"});
 ["#c0c0c0","#909090","#222222"].forEach((c,i)=>svg.append("rect").attr("x",747.3+i*13.5).attr("y",541).attr("width",13.5).attr("height",15).attr("fill",c).attr("stroke","#333").attr("stroke-width",.8));
 T(745,571.5,"Centromere",9.3,{...bold,anchor:"end"});
 svg.append("rect").attr("x",748).attr("y",559).attr("width",15).attr("height",14.7).attr("fill",centromereColor).attr("stroke","#333").attr("stroke-width",1);
}

// box plot
{
 const x=d3.scalePoint(boxIds,[448.3,760.6]), y=d3.scaleLinear([0,.05],[795.3,619.3]);
 const bw=16.5;
 svg.append("rect").attr("x",434).attr("y",619.3).attr("width",342.7).attr("height",180).attr("fill","none").attr("stroke","#999");
 const ax=svg.append("g").attr("transform","translate(0,799.3)").call(d3.axisBottom(x).tickSize(0).tickPadding(4));
 styleAxis(ax,"#999",11.3); ax.select(".domain").remove();
 const ay=svg.append("g").attr("transform","translate(434,0)").call(d3.axisLeft(y).tickValues([0,.01,.02,.03,.04,.05]).tickFormat(d=>d===0?"0":d3.format(".2f")(d)).tickSize(0).tickPadding(3));
 styleAxis(ay,"#999",11); ay.select(".domain").remove();
 [.01,.02,.03,.04].forEach(v=>{svg.append("line").attr("x1",434).attr("x2",437).attr("y1",y(v)).attr("y2",y(v)).attr("stroke","#888");
   svg.append("line").attr("x1",773.7).attr("x2",776.7).attr("y1",y(v)).attr("y2",y(v)).attr("stroke","#888");});
 boxIds.forEach((id,i)=>{
  const cx=x(id),g=svg.append("g").attr("stroke","#2a2a2a").attr("stroke-width",1.25);
  g.append("line").attr("x1",cx).attr("x2",cx).attr("y1",y(boxLow[i])).attr("y2",y(boxHigh[i]));
  [boxLow[i],boxHigh[i]].forEach(v=>g.append("line").attr("x1",cx-3.5).attr("x2",cx+3.5).attr("y1",y(v)).attr("y2",y(v)));
  g.append("rect").attr("x",cx-bw/2).attr("width",bw).attr("y",y(boxQ3[i])).attr("height",y(boxQ1[i])-y(boxQ3[i])).attr("fill",clusterColors[i]);
  g.append("line").attr("x1",cx-bw/2).attr("x2",cx+bw/2).attr("y1",y(boxMed[i])).attr("y2",y(boxMed[i]));
  boxOutliers[i].forEach(v=>{
   g.append("line").attr("x1",cx-1.8).attr("x2",cx+1.8).attr("y1",y(v)).attr("y2",y(v)).attr("stroke-width",1.4);
   g.append("line").attr("x1",cx).attr("x2",cx).attr("y1",y(v)-2.4).attr("y2",y(v)+2.4).attr("stroke-width",1.4);
  });
 });
 T(402.7,702.7,"CpG Island occupancy",11.5,{anchor:"middle",rot:-90}).attr("dy",".35em");
 T(612.7,825,"Chromatin state occupancy cluster (as defined in Fig. 5d)",11.5,{anchor:"middle"});
}
</script></body></html>
